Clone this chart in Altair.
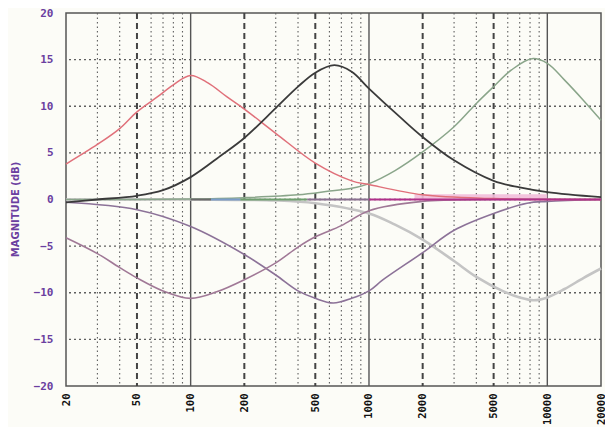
import altair as alt
import pandas as pd

# ---- data ----
x_ticks = [20, 50, 100, 200, 500, 1000, 2000, 5000, 10000, 20000]
y_ticks = [-20, -15, -10, -5, 0, 5, 10, 15, 20]
minor_freqs = [30, 40, 60, 70, 80, 90, 300, 400, 600, 700, 800, 900,
               3000, 4000, 6000, 7000, 8000, 9000]
half_decade_freqs = [50, 200, 500, 2000, 5000]
decade_freqs = [100, 1000, 10000]
h_grid = [-15, -10, -5, 0, 5, 10, 15]

# boost at 100 Hz
f_boost_low = [20, 30, 40, 50, 65, 80, 100, 125, 160, 200, 300, 500, 800, 1000, 2000, 5000, 10000, 20000]
db_boost_low = [3.8, 5.9, 7.6, 9.4, 11.0, 12.3, 13.3, 12.5, 11.0, 9.7, 7.1, 3.9, 2.0, 1.6, 0.5, 0.1, 0.0, 0.0]

# boost at ~640 Hz
f_boost_mid = [20, 30, 50, 70, 100, 150, 200, 300, 400, 500, 640, 800, 1000, 1500, 2000, 3000, 5000, 7000, 10000, 20000]
db_boost_mid = [-0.3, 0.0, 0.4, 1.0, 2.4, 4.8, 6.6, 9.8, 12.1, 13.6, 14.4, 13.7, 11.9, 8.8, 6.7, 4.2, 2.0, 1.3, 0.8, 0.25]

# boost at ~8.2 kHz
f_boost_high = [20, 100, 200, 400, 600, 800, 1000, 1400, 2000, 3000, 4000, 5000, 6300, 8200, 10000, 12500, 16000, 20000]
db_boost_high = [0.0, 0.05, 0.2, 0.5, 0.9, 1.2, 1.7, 3.1, 5.1, 7.8, 10.3, 12.1, 13.9, 15.1, 14.6, 12.8, 10.6, 8.5]

# cut at 100 Hz
f_cut_low = [20, 30, 40, 50, 70, 100, 140, 200, 300, 400, 500, 700, 1000, 2000, 5000, 20000]
db_cut_low = [-4.1, -5.8, -7.3, -8.4, -9.8, -10.6, -9.9, -8.6, -6.8, -5.1, -4.0, -2.8, -1.2, -0.2, 0.0, 0.0]

# cut at ~630 Hz
f_cut_mid = [20, 50, 100, 200, 300, 400, 500, 630, 800, 1000, 1200, 2000, 3000, 5000, 7700, 10000, 20000]
db_cut_mid = [-0.3, -1.1, -2.9, -5.9, -8.1, -9.8, -10.6, -11.1, -10.6, -9.8, -8.6, -5.7, -3.3, -1.5, -0.4, -0.2, 0.0]

# cut at ~8.4 kHz
f_cut_high = [20, 100, 300, 500, 1000, 1400, 2000, 3000, 4000, 5600, 7000, 8400, 10000, 12500, 16000, 20000]
db_cut_high = [0.0, 0.0, -0.1, -0.4, -1.5, -2.7, -4.3, -6.6, -8.3, -9.8, -10.5, -10.8, -10.5, -9.6, -8.4, -7.4]

# flat (0 dB) trace drawn in several colours
zero_seg_start = [100, 130, 190, 450, 1000]
zero_seg_end = [130, 190, 450, 1000, 20000]
zero_seg_color = ["#6a6a6a", "#7a9cc8", "#6e9e6e", "#8a7090", "#b0308a"]
pink_band = [1800, 10000]

xscale = alt.Scale(type="log", domain=[20, 20000], nice=False)
yscale = alt.Scale(domain=[-20, 20], nice=False)

MONO = "DejaVu Sans Mono"
PURPLE = "#6b3fa0"

x_axis = alt.Axis(values=x_ticks, labelAngle=-90, labelAlign="right", labelBaseline="middle",
                  labelPadding=7, labelFont=MONO, labelFontWeight="bold", labelFontSize=10.5,
                  labelColor="#111111", format="d", title=None, ticks=False, domain=False,
                  grid=False, labelFlush=False, labelOverlap=False)
y_axis = alt.Axis(values=y_ticks, labelFont=MONO, labelFontWeight="bold", labelFontSize=11,
                  labelColor=PURPLE, labelPadding=13, ticks=False, domain=False, grid=False,
                  title="MAGNITUDE (dB)", titleColor=PURPLE, titleFont="DejaVu Sans",
                  titleFontWeight="bold", titleFontSize=10, titleX=-46, titleY=196,
                  titleBaseline="bottom")

layers = []

# vertical grid
layers.append(alt.Chart(pd.DataFrame({"f": minor_freqs})).mark_rule(
    color="#5e5e5e", strokeWidth=1.1, strokeDash=[1.5, 3]).encode(
    x=alt.X("f:Q", scale=xscale, axis=x_axis)))
layers.append(alt.Chart(pd.DataFrame({"f": half_decade_freqs})).mark_rule(
    color="#444444", strokeWidth=2, strokeDash=[6, 4]).encode(
    x=alt.X("f:Q", scale=xscale)))
layers.append(alt.Chart(pd.DataFrame({"f": decade_freqs})).mark_rule(
    color="#555555", strokeWidth=1.4).encode(
    x=alt.X("f:Q", scale=xscale)))
# horizontal grid
layers.append(alt.Chart(pd.DataFrame({"v": h_grid})).mark_rule(
    color="#5e5e5e", strokeWidth=1.3, strokeDash=[2, 3]).encode(
    y=alt.Y("v:Q", scale=yscale, axis=y_axis)))

def curve(freqs, vals, color, width=1.5, opacity=1.0):
    df = pd.DataFrame({"f": freqs, "db": vals})
    return alt.Chart(df).mark_line(color=color, strokeWidth=width, opacity=opacity,
                                   interpolate="catmull-rom").encode(
        x=alt.X("f:Q", scale=xscale),
        y=alt.Y("db:Q", scale=yscale))

# pink blurred band near 0 dB
layers.append(curve(pink_band, [0.3, 0.3], "#f2bcd9", width=5, opacity=0.9))

layers.append(curve(f_cut_high, db_cut_high, "#c4c4c4", width=2.6))
layers.append(curve(f_cut_mid, db_cut_mid, "#8c7298", width=1.6))
layers.append(curve(f_cut_low, db_cut_low, "#a07896", width=1.6))
layers.append(curve(f_boost_high, db_boost_high, "#8aa58a", width=1.5))
layers.append(curve(f_boost_low, db_boost_low, "#e0707a", width=1.5))

for s, e, c in zip(zero_seg_start, zero_seg_end, zero_seg_color):
    layers.append(curve([s, e], [0, 0], c, width=2))

layers.append(curve(f_boost_mid, db_boost_mid, "#3a3a3a", width=1.8))

chart = alt.layer(*layers).properties(
    width=535, height=373,
    autosize=alt.AutoSizeParams(type="none"),
    padding={"left": 58, "top": 5, "right": 4, "bottom": 41},
    background="#fcfcf7",
).configure_view(stroke="#555555", strokeWidth=1.5)

chart.save("out.html", embed_options={"renderer": "svg", "actions": False})
